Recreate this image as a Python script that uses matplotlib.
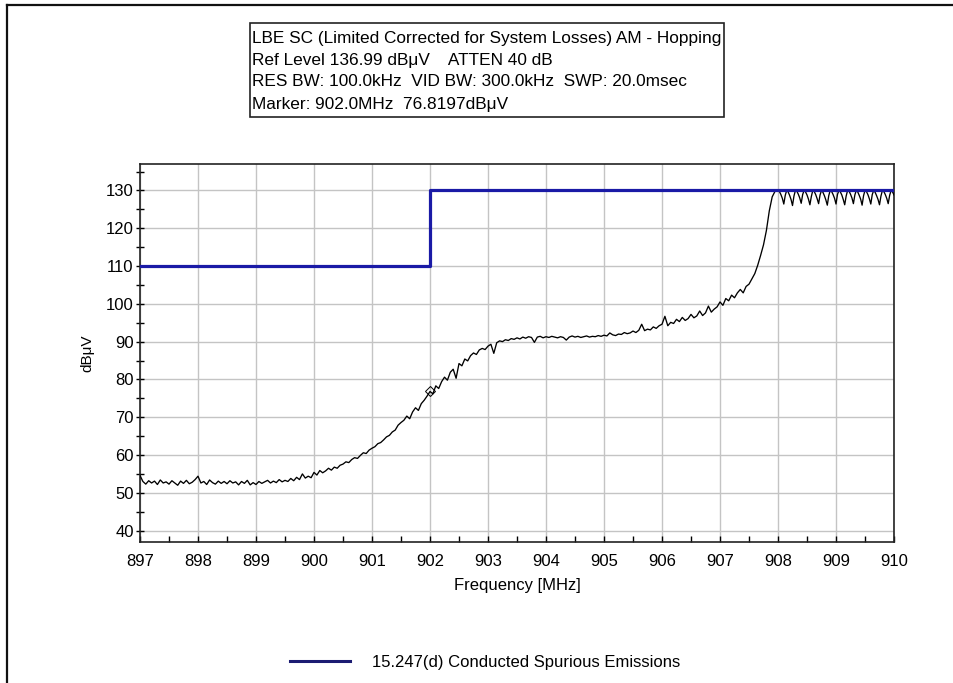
import numpy as np
import matplotlib
matplotlib.use("Agg")
import matplotlib.pyplot as plt
from matplotlib.lines import Line2D
from matplotlib.patches import Rectangle
from matplotlib.ticker import MultipleLocator

plt.rcParams['font.family'] = ['Liberation Sans', 'DejaVu Sans']

# measured trace, 897.00 - 907.95 MHz in 50 kHz steps
level_main = [
    54.6, 53.0, 52.3, 53.2, 52.6, 53.1, 52.2, 53.4, 52.6, 52.9,
    52.3, 53.2, 52.6, 52.0, 53.1, 52.5, 53.3, 52.4, 52.8, 53.5,
    54.4, 52.6, 53.0, 52.2, 53.4, 52.7, 52.3, 53.1, 52.5, 53.0,
    52.4, 53.2, 52.6, 52.9, 52.1, 53.0, 52.5, 53.3, 52.1, 52.7,
    52.2, 53.0, 52.5, 52.9, 53.3, 52.6, 53.1, 52.7, 53.5, 52.9,
    53.3, 53.0, 53.8, 53.2, 54.1, 53.5, 55.0, 53.9, 54.4, 54.0,
    55.4, 54.7, 55.9, 55.3, 55.8, 56.5, 56.0, 56.8, 56.5, 57.3,
    57.6, 58.2, 58.0, 58.8, 59.3, 59.1, 59.9, 60.6, 60.4, 61.3,
    61.8, 62.2, 63.0, 63.3, 64.0, 64.8, 65.2, 66.1, 66.6, 67.9,
    68.6, 69.2, 70.3, 69.6, 71.4, 72.5, 71.8, 73.6, 74.5, 75.6,
    76.8, 76.2, 78.3, 77.6, 79.4, 80.6, 79.8, 81.9, 82.7, 80.3,
    84.2, 83.6, 85.4, 84.9, 86.3, 87.0, 86.6, 87.8, 88.2, 87.9,
    88.8, 89.3, 86.9, 89.7, 90.2, 90.0, 90.5, 90.3, 90.8, 90.6,
    91.0, 90.7, 91.2, 90.9, 91.3, 91.1, 89.8, 91.2, 91.4, 91.0,
    91.3, 91.1, 91.4, 91.2, 91.0, 91.3, 91.1, 90.4, 91.2, 91.5,
    91.2, 91.4, 91.1, 91.3, 91.5, 91.2, 91.4, 91.3, 91.6, 91.4,
    91.7, 91.5, 92.3, 91.8, 91.6, 92.0, 91.9, 92.4, 92.1, 92.3,
    92.8, 92.4, 93.0, 94.6, 92.9, 93.3, 93.1, 93.9, 93.5, 94.2,
    94.6, 96.7, 94.2, 95.1, 94.8, 95.9, 95.3, 96.4, 95.6, 96.1,
    97.2, 96.3, 96.8, 98.1, 96.9, 97.6, 99.4, 97.8, 98.6, 99.2,
    100.5, 99.6, 101.4, 100.8, 102.3, 101.6, 102.9, 103.8, 102.9, 104.6,
    105.2, 106.6, 108.0, 110.2, 112.8, 115.6, 119.4, 124.6, 128.3, 129.8,
]
freq_main = np.linspace(897.0, 907.95, len(level_main))

# hopping channels above 908 MHz, 25 kHz steps
level_hop = [
    130.0, 129.7, 128.9, 127.9, 126.4, 128.7,
    130.0, 129.6, 128.7, 127.6, 126.0, 128.5,
    130.0, 129.8, 129.0, 128.0, 126.6, 128.9,
    130.0, 129.6, 128.8, 127.7, 126.2, 128.4,
    130.0, 129.7, 128.9, 127.8, 126.5, 128.8,
    130.0, 129.5, 128.6, 127.5, 126.1, 128.6,
    130.0, 129.7, 128.9, 127.9, 126.4, 128.9,
    130.0, 129.6, 128.8, 127.6, 126.2, 128.5,
    130.0, 129.8, 129.0, 128.0, 126.5, 128.8,
    130.0, 129.6, 128.7, 127.7, 126.1, 128.6,
    130.0, 129.7, 128.9, 127.8, 126.4, 128.9,
    130.0, 129.5, 128.6, 127.6, 126.2, 128.5,
    130.0, 129.7, 128.9, 127.9, 126.5, 128.7,
    130.0, 129.6, 128.8,
]
freq_hop = np.linspace(908.0, 910.0, len(level_hop))

# 15.247(d) limit
limit_freq = [897.0, 902.0, 902.0, 910.0]
limit_level = [110.0, 110.0, 130.0, 130.0]

marker_freq = 902.0
marker_level = 76.8197

header = [
    "LBE SC (Limited Corrected for System Losses) AM - Hopping",
    "Ref Level 136.99 dB\u03bcV    ATTEN 40 dB",
    "RES BW: 100.0kHz  VID BW: 300.0kHz  SWP: 20.0msec",
    "Marker: 902.0MHz  76.8197dB\u03bcV",
]

W, H = 954, 683
fig = plt.figure(figsize=(W / 100, H / 100), dpi=100)
ax = fig.add_axes([140 / W, 1 - 542 / H, 754 / W, 378 / H])

freq = np.concatenate([freq_main, freq_hop])
level = np.concatenate([level_main, level_hop])
ax.plot(freq, level, color='black', lw=0.95, zorder=3)
ax.plot(limit_freq, limit_level, color='#1a1aa6', lw=2.3, zorder=4)
ax.plot([marker_freq], [marker_level], marker='D', ms=5, mfc='none',
        mec='black', mew=0.7, zorder=5)

ax.xaxis.set_major_locator(MultipleLocator(1))
ax.xaxis.set_minor_locator(MultipleLocator(0.5))
ax.yaxis.set_minor_locator(MultipleLocator(5))
ax.set_yticks(np.arange(40, 131, 10))
ax.set_xlim(897, 910)
ax.set_ylim(36.99, 136.99)
ax.grid(True, which='major', color='#c4c4c4', lw=1.0)
ax.set_axisbelow(True)

ax.tick_params(axis='x', which='both', direction='in', length=4, width=1,
               pad=9, labelsize=12, top=False)
ax.tick_params(axis='y', which='both', direction='inout', length=6, width=1,
               pad=1.5, labelsize=12, right=False)
for s in ax.spines.values():
    s.set_linewidth(1.2)
    s.set_color('#222222')

ax.set_xlabel("Frequency [MHz]", fontsize=12, labelpad=6)
ax.set_ylabel("dB\u03bcV", fontsize=11, labelpad=8)

# header box
fig.add_artist(Rectangle((250 / W, 1 - 117 / H), 474 / W, 94 / H,
                         transform=fig.transFigure, fill=False,
                         edgecolor='#222222', lw=1.2))
for i, line in enumerate(header):
    fig.text(252 / W, 1 - (38 + 22 * i) / H, line, fontsize=12.4,
             va='center', ha='left')

# outer frame (top and left edges)
fig.add_artist(Line2D([7 / W, 1.0], [1 - 5 / H, 1 - 5 / H],
                      transform=fig.transFigure, color='#111111', lw=1.6))
fig.add_artist(Line2D([7 / W, 7 / W], [0.0, 1 - 5 / H],
                      transform=fig.transFigure, color='#111111', lw=1.6))

handle = Line2D([], [], color='#1c1c72', lw=2.2)
fig.legend(handles=[handle], labels=["15.247(d) Conducted Spurious Emissions"],
           loc='center', bbox_to_anchor=(485 / W, 1 - 662 / H), frameon=False,
           fontsize=12, handlelength=3.6, handletextpad=1.3)

fig.savefig("out.png", dpi=100)
